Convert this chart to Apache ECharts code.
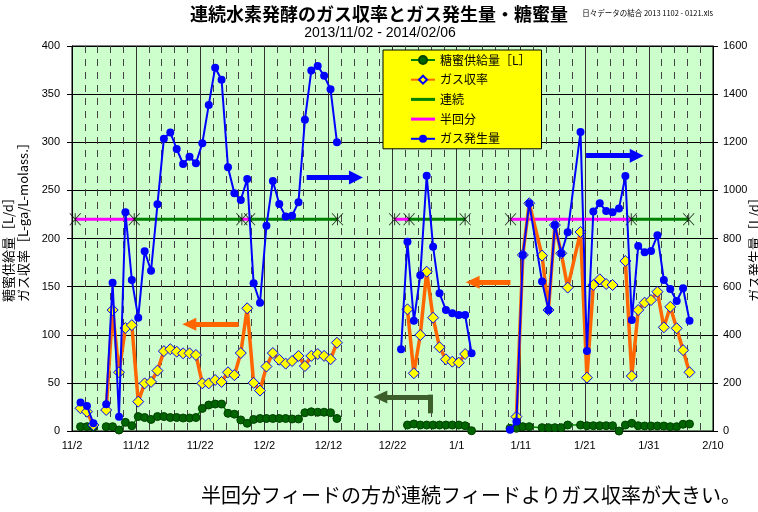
<!DOCTYPE html>
<html>
<head>
<meta charset="utf-8">
<script src="https://cdn.jsdelivr.net/npm/echarts@6/dist/echarts.min.js"></script>
<style>
  html, body { margin: 0; padding: 0; background: #fff; }
  #chart { width: 758px; height: 512px; }
</style>
</head>
<body>
<div id="chart"></div>
<script>
// ---- data (daily log, 2013/11/02 - 2014/02/06) ----
// sampling dates (m/d); Nov–Dec are 2013, Jan–Feb are 2014
const sampleDates = [
  '11/3','11/4','11/5','11/6','11/7','11/8','11/9','11/10','11/11','11/12','11/13','11/14','11/15','11/16',
  '11/17','11/18','11/19','11/20','11/21','11/22','11/23','11/24','11/25','11/26','11/27','11/28','11/29','11/30',
  '12/1','12/2','12/3','12/4','12/5','12/6','12/7','12/8','12/9','12/10','12/11','12/12','12/13','12/14','12/15','12/16',
  '12/17','12/18','12/19','12/20','12/21','12/22','12/23','12/24','12/25','12/26','12/27','12/28','12/29','12/30','12/31',
  '1/1','1/2','1/3','1/4','1/5','1/6','1/7','1/8','1/9','1/10','1/11','1/12','1/14','1/15','1/16','1/17','1/18',
  '1/20','1/21','1/22','1/23','1/24','1/25','1/26','1/27','1/28','1/29','1/30','1/31',
  '2/1','2/2','2/3','2/4','2/5','2/6'
];

// molasses feed [L/d] (left axis)
const molassesFeed = [
  4.5, 4.5, 4, null, 4.5, 4.5, 1, 9, 5.5, 15, 14, 12, 15, 15,
  14, 14, 13.5, 13.5, 14, 23.5, 27, 28, 28, 18.4, 17.5, 11.5, 8, 12,
  13, 13, 13, 13, 13, 12.5, 12.5, 19, 20, 19.5, 19.5, 19, 13, null, null, null,
  null, null, null, null, null, null, null, 6.2, 7.3, 6.2, 6.2, 6.2, 6.2, 6.2, 6.2,
  6.2, 5.5, 0.3, null, null, null, null, null, 2.8, 2.8, 4.5, 4.5, 3.5, 3.5, 3.5, 3.5, 6.2,
  6.2, 5.5, 5.5, 5.5, 5.5, 5.5, 0, 6.2, 8, 5.5, 5.2, 5.2,
  5.2, 5.2, 4.5, 4.5, 7, 7.3
];

// gas yield [L-gas/L-molasses] (left axis)
const gasYield = [
  23.6, 20, 6.2, null, 21.8, 125.7, 61, 107, 110, 30.5, 49.5, 51, 62.7, 83,
  85, 82.4, 80.7, 80.7, 79, 49.5, 49.5, 53, 51, 61, 58, 81, 127.5, 50,
  42, 67, 81, 74, 70, 72.7, 78, 67.5, 78, 80, 78, 74.5, 91.7, null, null, null,
  null, null, null, null, null, null, null, 126.4, 60, 99.7, 165.5, 117.7, 87, 74.5, 72,
  71, 80, null, null, null, null, null, null, null, 14.9, 182.9, 236.6, 182.2, 125.7, 214, 184.6, 149,
  206.8, 55.4, 151.7, 157.6, 152.7, 151.7, null, 176.6, 57.1, 125.7, 133.3, 136,
  144.7, 107.7, 129, 106.7, 84, 61
];

// gas production [L/d] (right axis)
const gasVolume = [
  118, 104, 32, null, 111, 616, 59, 909, 628, 471, 747, 666, 942, 1215,
  1241, 1172, 1110, 1140, 1113, 1196, 1355, 1510, 1460, 1096, 988, 960, 1047, 614,
  533, 853, 1039, 943, 891, 895, 951, 1293, 1498, 1517, 1476, 1420, 1200, null, null, null,
  null, null, null, null, null, null, 340, 786, 458, 647, 1061, 766, 572, 503, 489,
  482, 482, 323, null, null, null, null, null, 5, 39, 731, 946, 621, 503, 856, 738, 826,
  1243, 332, 912, 946, 914, 909, 925, 1060, 461, 769, 743, 748,
  813, 628, 590, 540, 593, 458
];

// operating mode periods (start, end)
const semiBatchPeriods = [
  ['11/2 12:00', '11/11 17:00'],
  ['11/28 12:00', '11/29 17:00'],
  ['12/22 08:00', '12/24 14:00'],
  ['1/9 10:00', '1/28 06:00']
];
const continuousPeriods = [
  ['11/11 17:00', '11/28 12:00'],
  ['11/29 17:00', '12/13 10:00'],
  ['12/24 14:00', '1/2 08:00'],
  ['1/28 06:00', '2/6 05:00']
];
const modeLevel = 220;          // height of the mode bars on the left axis
const sampleHour = 8;           // daily sampling time

const xTickLabels = ['11/2','11/12','11/22','12/2','12/12','12/22','1/1','1/11','1/21','1/31','2/10'];
const leftTicks  = { min: 0, max: 400, step: 50 };
const rightTicks = { min: 0, max: 1600, step: 200 };

// ---- helpers ----
const ORIGIN = Date.UTC(2013, 10, 2);
function dayOf(md, time) {
  const [m, d] = md.split('/').map(Number);
  const [hh, mm] = (time || '00:00').split(':').map(Number);
  const year = m >= 11 ? 2013 : 2014;
  return (Date.UTC(year, m - 1, d, hh, mm) - ORIGIN) / 86400000;
}
function stamp(s) { const p = s.split(' '); return dayOf(p[0], p[1]); }
const sampleX = sampleDates.map(d => dayOf(d) + sampleHour / 24);
const pairs = vals => vals.map((v, i) => [sampleX[i], v == null ? '-' : v]);
function periodLine(periods) {
  const out = [];
  periods.forEach((p, i) => {
    if (i > 0) out.push([stamp(p[0]) - 0.01, '-']);
    out.push([stamp(p[0]), modeLevel], [stamp(p[1]), modeLevel]);
  });
  return out;
}
const switchPoints = [];
semiBatchPeriods.concat(continuousPeriods).forEach(p => p.forEach(s => {
  const x = stamp(s);
  if (!switchPoints.some(q => Math.abs(q[0] - x) < 1e-6)) switchPoints.push([x, modeLevel]);
}));

// annotation arrows, in axis units [day, value]
function arrow(from, to, color, size, head) {
  return [
    { coord: from, symbol: 'none', lineStyle: { color: color, width: 5, type: 'solid' } },
    { coord: to, symbol: head === false ? 'none' : 'triangle', symbolSize: size }
  ];
}

const JP = '"Noto Sans CJK JP", sans-serif';
const NUM = '"Liberation Sans", Arial, sans-serif';
const barIcon = 'path://M0 4.5L24 4.5L24 7.5L0 7.5Z';

const chart = echarts.init(document.getElementById('chart'), null, { renderer: 'canvas' });
chart.setOption({
  animation: false,
  backgroundColor: '#ffffff',
  grid: {
    left: 72, top: 46, width: 641, height: 385,
    show: true, backgroundColor: '#CCFFCC', borderColor: '#000', borderWidth: 1,
    containLabel: false, outerBoundsMode: 'none'
  },
  legend: {
    orient: 'vertical', left: 383, top: 50,
    backgroundColor: '#FFFF00', borderColor: '#000', borderWidth: 1,
    padding: [3, 11, 3, 27], itemWidth: 24, itemHeight: 10, itemGap: 5.7,
    selectedMode: false,
    textStyle: { fontFamily: JP, fontSize: 12, color: '#000', lineHeight: 14 },
    data: [
      '糖蜜供給量［L］',
      'ガス収率',
      { name: '連続', icon: barIcon },
      { name: '半回分', icon: barIcon },
      'ガス発生量'
    ]
  },
  xAxis: {
    type: 'value', min: 0, max: 100, interval: 10,
    axisLine: { show: true, lineStyle: { color: '#000', width: 1 } },
    axisTick: { show: false },
    axisLabel: {
      margin: 9, color: '#000', fontFamily: NUM, fontSize: 11,
      formatter: v => xTickLabels[Math.round(v / 10)] || ''
    },
    splitLine: { show: true, lineStyle: { color: '#333', width: 1 } },
    minorTick: { show: false, splitNumber: 5 },
    minorSplitLine: { show: true, lineStyle: { color: '#444', width: 1, type: [7, 6] } }
  },
  yAxis: [
    {
      type: 'value', min: leftTicks.min, max: leftTicks.max, interval: leftTicks.step, position: 'left',
      axisLine: { show: true, lineStyle: { color: '#000' } },
      axisTick: { show: true, length: 5, lineStyle: { color: '#000' } },
      axisLabel: { margin: 12, color: '#000', fontFamily: NUM, fontSize: 11, formatter: v => String(v) },
      splitLine: { show: true, lineStyle: { color: '#000', width: 1 } }
    },
    {
      type: 'value', min: rightTicks.min, max: rightTicks.max, interval: rightTicks.step, position: 'right',
      axisLine: { show: true, lineStyle: { color: '#000' } },
      axisTick: { show: true, length: 5, lineStyle: { color: '#000' } },
      axisLabel: { margin: 10, color: '#000', fontFamily: NUM, fontSize: 11, formatter: v => String(v) },
      splitLine: { show: false }
    }
  ],
  graphic: [
    { type: 'text', x: 379, y: 14, z: 10,
      style: { text: '連続水素発酵のガス収率とガス発生量・糖蜜量', font: 'bold 18px ' + JP, fill: '#000', textAlign: 'center', textVerticalAlign: 'middle' } },
    { type: 'text', x: 380, y: 33, z: 10,
      style: { text: '2013/11/02 - 2014/02/06', font: '14px ' + NUM, fill: '#000', textAlign: 'center', textVerticalAlign: 'middle' } },
    { type: 'text', x: 713, y: 13, z: 10,
      style: { text: '日々データの結合 2013 1102 - 0121.xls', font: '7.5px ' + JP, fill: '#000', textAlign: 'right', textVerticalAlign: 'middle' } },
    { type: 'text', x: 8, y: 302, rotation: Math.PI / 2, z: 10,
      style: { text: '糖蜜供給量［L/d］', font: '13px ' + JP, fill: '#000', textAlign: 'left', textVerticalAlign: 'middle' } },
    { type: 'text', x: 23, y: 302, rotation: Math.PI / 2, z: 10,
      style: { text: 'ガス収率［L-ga/L-molass.］', font: '13px ' + JP, fill: '#000', textAlign: 'left', textVerticalAlign: 'middle' } },
    { type: 'text', x: 754, y: 302, rotation: Math.PI / 2, z: 10,
      style: { text: 'ガス発生量［L/d］', font: '13px ' + JP, fill: '#000', textAlign: 'left', textVerticalAlign: 'middle' } },
    { type: 'text', x: 201, y: 495, z: 10,
      style: { text: '半回分フィードの方が連続フィードよりガス収率が大きい。', font: '20px ' + JP, fill: '#000', textAlign: 'left', textVerticalAlign: 'middle' } }
  ],
  series: [
    {
      name: '半回分', type: 'line', yAxisIndex: 0, z: 2, silent: true,
      data: periodLine(semiBatchPeriods), symbol: 'none', connectNulls: false,
      lineStyle: { color: '#FF00FF', width: 3 }, itemStyle: { color: '#FF00FF' }
    },
    {
      name: '連続', type: 'line', yAxisIndex: 0, z: 2, silent: true,
      data: periodLine(continuousPeriods), symbol: 'none', connectNulls: false,
      lineStyle: { color: '#008000', width: 3 }, itemStyle: { color: '#008000' }
    },
    {
      name: 'モード切替', type: 'scatter', yAxisIndex: 0, z: 3, silent: true,
      data: switchPoints,
      symbol: 'path://M0 0L10 12M10 0L0 12M5 0L5 12', symbolSize: [11, 12],
      itemStyle: { color: 'none', borderColor: '#000', borderWidth: 1 }
    },
    {
      name: '糖蜜供給量［L］', type: 'line', yAxisIndex: 0, z: 4, silent: true,
      data: pairs(molassesFeed), connectNulls: false,
      symbol: 'circle', symbolSize: 8,
      lineStyle: { color: '#008000', width: 1.5 },
      itemStyle: { color: '#006400', borderColor: '#004000', borderWidth: 1 },
      markLine: {
        silent: true, label: { show: false }, animation: false,
        data: [
          arrow([55.9, 18.4], [55.9, 37.8], '#3B5E2B', 1, false),
          arrow([55.9, 35.3], [48.1, 35.3], '#3B5E2B', [13, 14])
        ]
      }
    },
    {
      name: 'ガス収率', type: 'line', yAxisIndex: 0, z: 5, silent: true,
      data: pairs(gasYield), connectNulls: false,
      symbol: 'diamond', symbolSize: 11,
      lineStyle: { color: '#FF6600', width: 3.5 },
      itemStyle: { color: '#FFFF00', borderColor: '#0000FF', borderWidth: 1 },
      markLine: {
        silent: true, label: { show: false }, animation: false,
        data: [
          arrow([26.0, 111], [18.3, 111], '#FF6600', [13, 14]),
          arrow([68.4, 154.5], [62.5, 154.5], '#FF6600', [13, 14])
        ]
      }
    },
    {
      name: 'ガス発生量', type: 'line', yAxisIndex: 1, z: 6, silent: true,
      data: pairs(gasVolume), connectNulls: false,
      symbol: 'circle', symbolSize: 8,
      lineStyle: { color: '#0000FF', width: 2 },
      itemStyle: { color: '#0000FF' },
      markLine: {
        silent: true, label: { show: false }, animation: false,
        data: [
          arrow([36.6, 1054], [44.3, 1054], '#0000FF', [14, 14]),
          arrow([80.2, 1144], [88.1, 1144], '#0000FF', [14, 14])
        ]
      }
    }
  ]
});
</script>
</body>
</html>
